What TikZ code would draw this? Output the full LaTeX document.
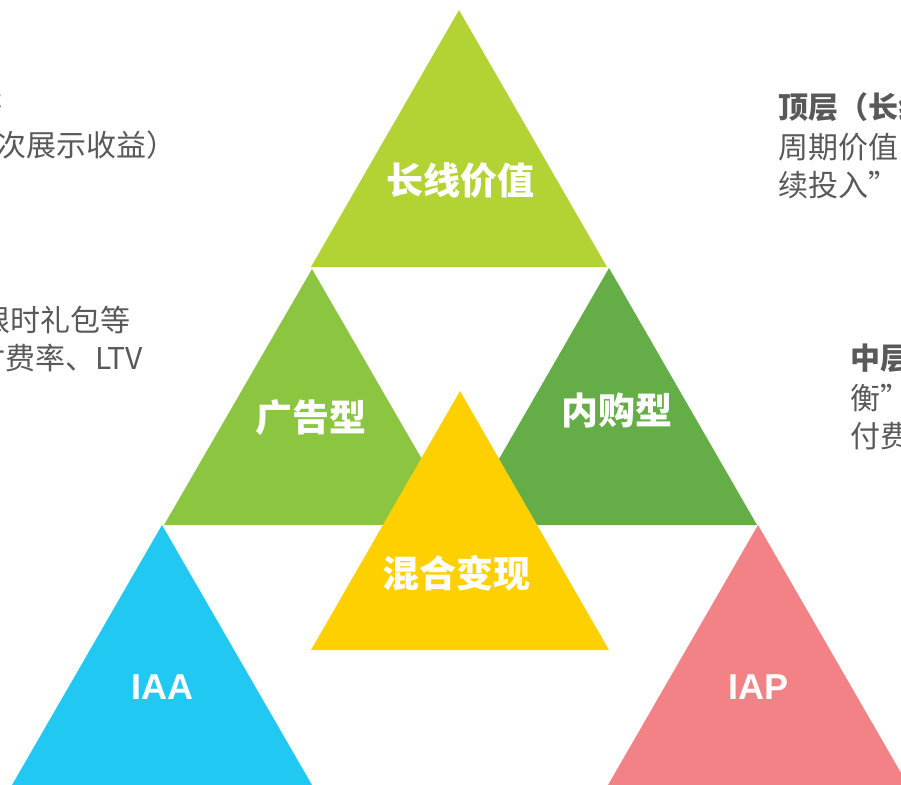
\documentclass[tikz,border=0pt]{standalone}
\usepackage{fontspec}
\setmainfont{Noto Sans CJK SC}
\newfontfamily\latinsans{Liberation Sans}
\definecolor{cTop}{HTML}{B3D335}
\definecolor{cLeft}{HTML}{8CC540}
\definecolor{cRight}{HTML}{65AE47}
\definecolor{cMix}{HTML}{FFD000}
\definecolor{cIAA}{HTML}{21C9F2}
\definecolor{cIAP}{HTML}{F28286}
\definecolor{txt}{HTML}{595959}
\begin{document}
\begin{tikzpicture}[x=1pt,y=-1pt,
  lab/.style={text=white,font=\fontsize{37}{37}\selectfont\bfseries,inner sep=0pt},
  lablat/.style={text=white,font=\latinsans\fontsize{36}{36}\selectfont\bfseries,inner sep=0pt},
  body/.style={text=txt,font=\fontsize{30}{30}\selectfont,inner sep=0pt}]
\useasboundingbox (0,0) rectangle (901,784);
\clip (0,0) rectangle (901,784);
% triangles
\fill[cTop]   (459,10)  -- (311,267) -- (607,267) -- cycle;
\fill[cLeft]  (312,269) -- (164,525) -- (460,525) -- cycle;
\fill[cRight] (609,268) -- (461,525) -- (757,525) -- cycle;
\fill[cIAA]   (162,525) -- (12,785)  -- (312,785) -- cycle;
\fill[cIAP]   (758,525) -- (608,785) -- (908,785) -- cycle;
\fill[cMix]   (460,391) -- (311,650) -- (609,650) -- cycle;
% labels
\node[lab] (ltop) at (460,181) {长线价值};
\node[lab] (lad) at (311,418) {广告型};
\node[lab] (lbuy) at (617,410) {内购型};
\node[lab] (lmix) at (456,573) {混合变现};
\node[lablat] (liaa) at (162,687) {IAA};
\node[lablat] (liap) at (758,687) {IAP};
% left texts
\node[body,anchor=base east] (l1a) at (3,117) {{\bfseries 底层（IAA）：}激励视频、插屏等};
\node[body,anchor=base east] (l1b) at (177,156) {关注eCPM（千次展示收益）};
\node[body,anchor=base east] (l2a) at (131,331) {{\bfseries 中层（IAP）：}月卡、限时礼包等};
\node[body,anchor=base east] (l2b) at (143,369) {关注付费率、LTV};
% right texts
\node[body,anchor=base west] (r1a) at (778,118) {{\bfseries 顶层（长线价值）：}关注用户生命};
\node[body,anchor=base west] (r1b) at (778,158) {周期价值，形成“持};
\node[body,anchor=base west] (r1c) at (778,196) {续投入”};
\node[body,anchor=base west] (r2a) at (850,369) {{\bfseries 中层（混合变现）：}“平};
\node[body,anchor=base west] (r2b) at (850,409) {衡”};
\node[body,anchor=base west] (r2c) at (850,447) {付费与广告};
\end{tikzpicture}
\end{document}
